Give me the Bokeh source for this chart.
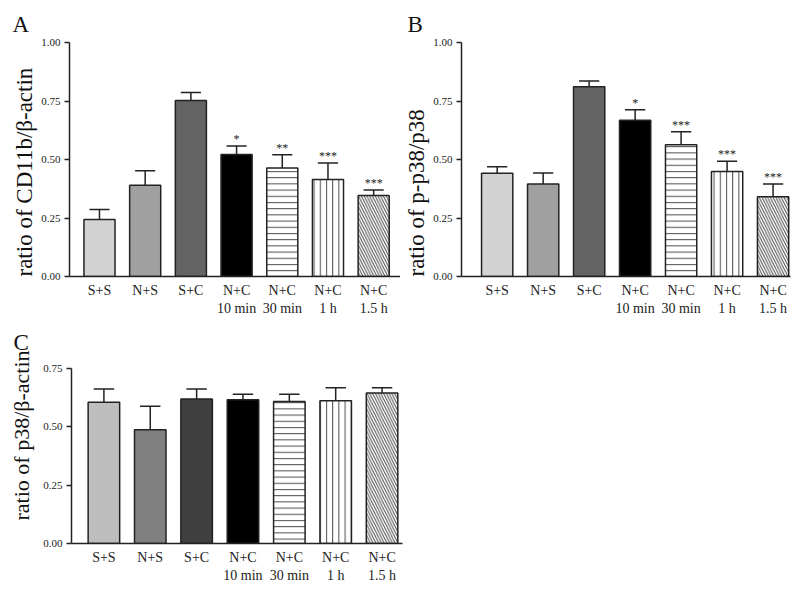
from bokeh.plotting import figure
from bokeh.models import Range1d, FixedTicker, ColumnDataSource, NumeralTickFormatter, Title
from bokeh.layouts import column, row
from bokeh.embed import file_html
from bokeh.resources import INLINE
from bokeh.core.properties import value

# ---------------- data ----------------
categories = ["S+S", "N+S", "S+C", "N+C\n10 min", "N+C\n30 min", "N+C\n1 h", "N+C\n1.5 h"]
positions = [0, 1, 2, 3, 4, 5, 6]

mean_a = [0.244, 0.390, 0.752, 0.521, 0.464, 0.414, 0.346]
sem_a = [0.042, 0.062, 0.034, 0.037, 0.056, 0.071, 0.024]
sig_a = ["", "", "", "*", "**", "***", "***"]

mean_b = [0.441, 0.395, 0.811, 0.668, 0.563, 0.449, 0.341]
sem_b = [0.028, 0.047, 0.024, 0.045, 0.056, 0.043, 0.054]
sig_b = ["", "", "", "*", "***", "***", "***"]

mean_c = [0.605, 0.488, 0.619, 0.616, 0.609, 0.612, 0.645]
sem_c = [0.057, 0.100, 0.043, 0.024, 0.031, 0.055, 0.022]
sig_c = ["", "", "", "", "", "", ""]

ticks_ab = [0.0, 0.25, 0.5, 0.75, 1.0]
ticks_c = [0.0, 0.25, 0.5, 0.75]

# ---------------- styles ----------------
FONT = "Liberation Serif"
fills_ab = ["#d3d3d3", "#a0a0a0", "#646464", "#000000", "#ffffff", "#ffffff", "#ffffff"]
fills_c = ["#bebebe", "#808080", "#404040", "#000000", "#ffffff", "#ffffff", "#ffffff"]
hatches = ["blank", "blank", "blank", "blank", "horizontal_line", "vertical_line", "left_diagonal_line"]
hatch_scales = [6, 6, 6, 6, 6.2, 6.2, 5.5]


def make_panel(mean, sem, sig, fills, ticks, ymax, width, height, borders, xr,
               letter, letter_offset, letter_standoff, letter_spacer,
               ylabel, ylabel_offset, ylabel_standoff, ylabel_size):
    bl, br, bt, bb = borders
    p = figure(width=width, height=height, x_range=Range1d(*xr), y_range=Range1d(0, ymax),
               output_backend="svg", toolbar_location=None,
               min_border_left=bl, min_border_right=br, min_border_top=bt, min_border_bottom=bb)
    p.outline_line_color = None
    p.xgrid.grid_line_color = None
    p.ygrid.grid_line_color = None
    p.background_fill_color = "white"
    p.border_fill_color = "white"

    # x axis
    p.xaxis.ticker = FixedTicker(ticks=positions)
    p.xaxis.major_label_overrides = {pos: cat for pos, cat in zip(positions, categories)}
    p.xaxis.major_tick_line_color = None
    p.xaxis.minor_tick_line_color = None
    p.xaxis.axis_line_color = "#222222"
    p.xaxis.axis_line_width = 1.5
    p.xaxis.major_label_text_font = FONT
    p.xaxis.major_label_text_font_size = "14px"
    p.xaxis.major_label_text_color = "#222222"
    p.xaxis.major_label_standoff = 0

    # y axis
    p.yaxis.ticker = FixedTicker(ticks=ticks)
    p.yaxis.formatter = NumeralTickFormatter(format="0.00")
    p.yaxis.minor_tick_line_color = None
    p.yaxis.major_tick_in = 0
    p.yaxis.major_tick_out = 5
    p.yaxis.major_tick_line_width = 1.3
    p.yaxis.major_tick_line_color = "#222222"
    p.yaxis.axis_line_color = "#222222"
    p.yaxis.axis_line_width = 1.5
    p.yaxis.major_label_text_font = FONT
    p.yaxis.major_label_text_font_size = "11px"
    p.yaxis.major_label_text_color = "#222222"
    p.yaxis.major_label_standoff = 4

    tops = [m + s for m, s in zip(mean, sem)]
    src = ColumnDataSource(dict(x=positions, top=mean, err=tops, fill=fills,
                                hatch=hatches, hscale=hatch_scales,
                                cl=[x - 0.22 for x in positions], cr=[x + 0.22 for x in positions]))
    p.vbar(x="x", top="top", width=0.68, bottom=0, fill_color="fill", line_color="#222222",
           line_width=1.5, hatch_pattern="hatch", hatch_color="#4a4a4a", hatch_weight=1,
           hatch_scale="hscale", source=src)
    p.segment(x0="x", y0="top", x1="x", y1="err", line_color="#222222", line_width=1.5, source=src)
    p.segment(x0="cl", y0="err", x1="cr", y1="err", line_color="#222222", line_width=1.5, source=src)

    # significance stars (only where present)
    idx = [i for i, s in enumerate(sig) if s]
    if idx:
        star_src = ColumnDataSource(dict(x=[positions[i] for i in idx],
                                         y=[tops[i] for i in idx],
                                         t=[sig[i] for i in idx]))
        p.text(x="x", y="y", text="t", text_align="center", text_baseline="bottom",
               text_font=value(FONT), text_font_size="12px", text_color="#222222",
               source=star_src)

    # optional white spacer title between frame and the panel letter
    if letter_spacer:
        p.add_layout(Title(text=".", text_font=FONT, text_font_size="10px",
                           text_color="#ffffff", standoff=letter_spacer), "above")
    # panel letter (above, shifted left of the frame)
    p.add_layout(Title(text=letter, align="left", offset=letter_offset, standoff=letter_standoff,
                       text_font=FONT, text_font_size="23px", text_font_style="normal",
                       text_color="#111111"), "above")
    # y axis title (left side, outside the axis), starting ylabel_offset px above frame bottom
    p.add_layout(Title(text=ylabel, align="left", offset=ylabel_offset, standoff=ylabel_standoff,
                       text_font=FONT, text_font_size=ylabel_size, text_font_style="normal",
                       text_color="#111111"), "left")
    return p


pA = make_panel(mean_a, sem_a, sig_a, fills_ab, ticks_ab, 1.0,
                width=400, height=318, borders=(69, 0, 42, 42), xr=(-0.656, 6.587),
                letter="A", letter_offset=-57, letter_standoff=12, letter_spacer=0,
                ylabel="ratio of CD11b/β-actin", ylabel_offset=0, ylabel_standoff=3,
                ylabel_size="23px")
pB = make_panel(mean_b, sem_b, sig_b, fills_ab, ticks_ab, 1.0,
                width=400, height=318, borders=(58, 10, 42, 42), xr=(-0.776, 6.379),
                letter="B", letter_offset=-54, letter_standoff=12, letter_spacer=0,
                ylabel="ratio of p-p38/p38", ylabel_offset=0, ylabel_standoff=3,
                ylabel_size="23px")
pC = make_panel(mean_c, sem_c, sig_c, fills_c, ticks_c, 0.75,
                width=404, height=271, borders=(70, 2, 50, 46), xr=(-0.699, 6.441),
                letter="C", letter_offset=-58, letter_standoff=0, letter_spacer=5,
                ylabel="ratio of p38/β-actin", ylabel_offset=23, ylabel_standoff=13,
                ylabel_size="22px")

layout = column(row(pA, pB), pC)
open("out.html", "w").write(file_html(layout, INLINE))
